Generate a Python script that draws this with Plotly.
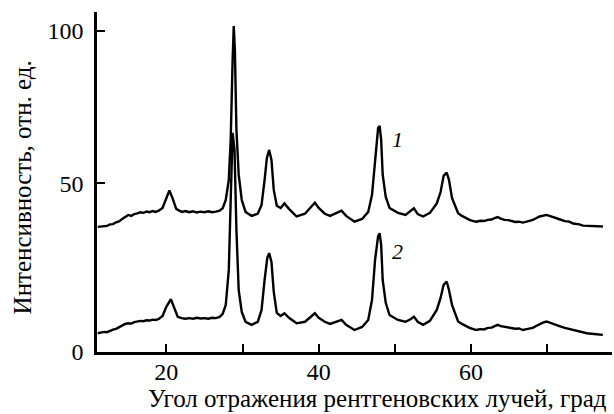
import plotly.graph_objects as go

# Curve 1 (upper) : angle (deg), intensity (rel. units)
x1 = [11.0, 11.4, 11.8, 12.2, 12.6, 13.0, 13.4, 13.8, 14.2, 14.6, 15.0, 15.4, 15.8, 16.2, 16.6,
      17.0, 17.4, 17.8, 18.2, 18.6, 19.0, 19.5, 20.0, 20.4, 20.8, 21.3, 21.7, 22.1, 22.5, 23.0,
      23.5, 24.0, 24.5, 25.0, 25.5, 26.0, 26.5, 27.0, 27.4, 27.8, 28.2, 28.45, 28.7, 28.85, 29.0,
      29.2, 29.5, 29.9, 30.4, 31.2, 32.0, 32.5, 32.9, 33.2, 33.5, 33.8, 34.1, 34.5, 35.0, 35.5,
      36.1, 37.1, 38.2, 39.1, 39.5, 40.0, 40.8, 41.5, 42.4, 43.0, 43.6, 44.7, 45.7, 46.5, 47.0,
      47.4, 47.8, 48.0, 48.2, 48.4, 48.8, 49.3, 50.4, 51.4, 52.1, 52.5, 53.0, 53.7, 54.6, 55.5,
      56.0, 56.4, 56.8, 57.1, 57.5, 58.3, 58.8, 59.3, 59.8, 60.3, 60.7, 61.2, 61.7, 62.2, 62.7,
      63.1, 63.5, 63.9, 64.4, 64.9, 65.4, 65.8, 66.3, 66.8, 67.3, 67.7, 68.1, 68.6, 69.0, 69.5,
      69.9, 70.4, 71.0, 71.6, 72.3, 72.9, 73.4, 73.7, 74.2, 74.7, 75.2, 75.8, 76.4, 76.9, 77.3]
y1 = [35.7, 35.8, 36.1, 36.0, 36.5, 36.6, 37.2, 37.5, 38.3, 39.0, 39.6, 39.3, 39.9, 40.1, 40.5,
      40.3, 40.7, 40.5, 40.9, 40.6, 41.0, 41.9, 45.2, 47.6, 45.2, 41.6, 41.0, 40.6, 40.9, 40.5,
      40.8, 40.4, 40.7, 40.5, 40.8, 40.5, 40.7, 41.0, 41.8, 44.5, 51.1, 64.2, 90.3, 101.5, 93.6,
      67.5, 52.8, 44.5, 40.6, 39.3, 40.0, 42.9, 51.1, 58.3, 60.9, 57.6, 47.8, 42.6, 41.9, 43.4,
      41.6, 39.1, 40.0, 42.6, 43.6, 41.9, 40.0, 39.3, 40.3, 41.0, 39.3, 37.4, 38.3, 40.6, 46.2,
      57.6, 68.1, 68.8, 64.2, 52.8, 45.5, 41.9, 40.3, 39.6, 40.9, 41.8, 39.9, 39.1, 40.3, 43.4,
      47.1, 52.4, 53.5, 51.1, 45.2, 40.2, 39.3, 38.6, 38.0, 37.6, 37.4, 37.7, 37.6, 38.0, 38.1,
      38.6, 38.9, 38.4, 38.0, 37.9, 37.5, 37.3, 37.4, 37.1, 37.4, 37.6, 38.0, 38.6, 39.1, 39.4,
      39.6, 39.2, 38.6, 38.2, 37.6, 37.4, 36.8, 36.7, 36.5, 36.1, 36.0, 35.9, 36.0, 35.8, 35.8]

# Curve 2 (lower)
x2 = [11.0, 11.4, 11.8, 12.2, 12.6, 13.0, 13.4, 13.8, 14.2, 14.6, 15.0, 15.4, 15.8, 16.2, 16.6,
      17.0, 17.4, 17.8, 18.2, 18.6, 19.0, 19.5, 20.0, 20.6, 20.95, 21.5, 22.0, 22.5, 23.0, 23.5,
      24.0, 24.5, 25.0, 25.5, 26.0, 26.5, 27.0, 27.4, 27.8, 28.2, 28.45, 28.7, 28.95, 29.2, 29.5,
      29.9, 30.4, 31.2, 32.0, 32.5, 32.9, 33.25, 33.5, 33.8, 34.1, 34.5, 35.0, 35.5, 36.1, 37.1,
      38.2, 39.1, 39.5, 40.0, 40.8, 41.5, 42.4, 43.0, 43.6, 44.7, 45.7, 46.5, 47.0, 47.4, 47.8,
      48.0, 48.2, 48.4, 48.8, 49.3, 50.4, 51.4, 52.1, 52.5, 53.0, 53.7, 54.6, 55.5, 56.0, 56.4,
      56.8, 57.1, 57.5, 58.3, 58.8, 59.3, 59.8, 60.3, 60.7, 61.2, 61.7, 62.2, 62.7, 63.1, 63.5,
      63.9, 64.4, 64.9, 65.4, 65.8, 66.3, 66.8, 67.3, 67.7, 68.1, 68.6, 69.0, 69.5, 69.9, 70.4,
      71.0, 71.6, 72.3, 72.9, 73.4, 73.7, 74.2, 74.7, 75.2, 75.8, 76.4, 76.9, 77.3]
y2 = [0.85, 1.0, 1.3, 1.2, 1.7, 2.0, 2.3, 2.8, 3.3, 3.9, 4.1, 4.0, 4.5, 4.7, 4.9,
      4.8, 5.1, 5.0, 5.3, 5.2, 5.5, 6.5, 9.5, 12.0, 9.5, 6.2, 5.8, 5.6, 5.8, 5.6,
      5.9, 5.7, 5.8, 5.6, 5.9, 5.8, 6.2, 7.2, 10.1, 21.6, 44.5, 66.5, 60.9, 34.7, 15.0,
      7.8, 4.6, 3.6, 4.6, 8.5, 18.3, 25.5, 27.1, 24.2, 14.4, 7.5, 6.5, 7.4, 5.9, 4.1,
      4.6, 6.5, 7.4, 5.9, 4.6, 3.9, 4.6, 5.2, 3.6, 1.9, 2.9, 5.2, 11.8, 24.9, 32.7,
      33.6, 29.8, 18.3, 10.8, 6.8, 5.2, 4.6, 5.5, 6.3, 4.6, 3.6, 4.9, 8.5, 12.4, 16.7,
      17.8, 15.0, 10.1, 4.7, 3.9, 3.2, 2.6, 2.2, 1.9, 2.2, 2.1, 2.6, 2.7, 3.2, 3.6,
      3.2, 2.9, 2.7, 2.4, 2.3, 2.4, 1.9, 2.2, 2.4, 2.6, 3.3, 3.9, 4.4, 4.7, 4.2,
      3.6, 3.2, 2.6, 2.2, 1.8, 1.6, 1.4, 1.0, 0.85, 0.7, 0.6, 0.4, 0.3]

x_tickvals = [20, 30, 40, 50, 60, 70]
x_ticktext = ["20", "", "40", "", "60", ""]
y_ticktext = ["0", "50", "100"]
curve_labels = ["1", "2"]
label_pos = [(50.3, 64.2), (50.3, 27.5)]

Y_MIN, Y_MAX = -5.3, 106.1
X_MIN, X_MAX = 10.9, 78.5

FONT = "Liberation Serif"

fig = go.Figure()
for xs, ys in [(x1, y1), (x2, y2)]:
    fig.add_trace(go.Scatter(x=xs, y=ys, mode="lines",
                             line=dict(color="black", width=2.4),
                             showlegend=False, hoverinfo="skip"))

for txt, (lx, ly) in zip(curve_labels, label_pos):
    fig.add_annotation(x=lx, y=ly, text=f"<i>{txt}</i>", showarrow=False,
                       font=dict(family=FONT, size=22, color="black"),
                       xanchor="center", yanchor="middle")

fig.add_annotation(xref="paper", yref="paper", x=0.995, y=0, yshift=-46,
                   text="Угол отражения рентгеновских лучей, град", showarrow=False,
                   xanchor="right", yanchor="middle",
                   font=dict(family=FONT, size=25, color="black"))
fig.add_annotation(xref="paper", yref="paper", x=-0.145, y=0.485,
                   text="Интенсивность, отн. ед.", showarrow=False, textangle=-90,
                   xanchor="center", yanchor="middle",
                   font=dict(family=FONT, size=25, color="black"))

fig.update_layout(
    width=614, height=414,
    margin=dict(l=97, r=2, t=12, b=62),
    paper_bgcolor="white", plot_bgcolor="white",
    font=dict(family=FONT, size=24, color="black"),
    xaxis=dict(range=[X_MIN, X_MAX], tickvals=x_tickvals, ticktext=x_ticktext,
               ticks="inside", ticklen=8, tickwidth=2, tickcolor="black",
               showline=True, linecolor="black", linewidth=2.5,
               showgrid=False, zeroline=False, ticklabelstandoff=-4),
    yaxis=dict(range=[Y_MIN, Y_MAX], tickvals=[Y_MIN, 50, 100], ticktext=y_ticktext,
               ticks="inside", ticklen=8, tickwidth=2, tickcolor="black",
               showline=True, linecolor="black", linewidth=2.5,
               showgrid=False, zeroline=False, ticklabelstandoff=6),
)

fig.write_html("out.html", config={"displayModeBar": False},
               post_script="document.body.style.margin='0';document.body.style.overflow='hidden';")
